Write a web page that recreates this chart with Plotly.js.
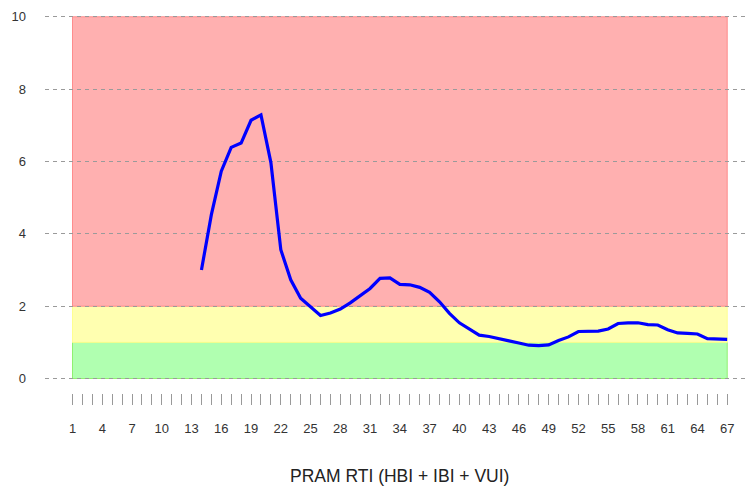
<!DOCTYPE html>
<html>
<head>
<meta charset="utf-8">
<script src="https://cdn.plot.ly/plotly-3.0.1.min.js"></script>
<style>html,body{margin:0;padding:0;background:#fff;}#chart{width:748px;height:486px;}</style>
</head>
<body>
<div id="chart"></div>
<script>
// Data
const weeks = [14,15,16,17,18,19,20,21,22,23,24,25,26,27,28,29,30,31,32,33,34,35,36,37,38,39,40,
  41,42,43,44,45,46,47,48,49,50,51,52,53,54,55,56,57,58,59,60,61,62,63,64,65,66,67];
const rtiValues = [3.00,4.53,5.73,6.39,6.51,7.14,7.29,5.97,3.56,2.73,2.22,1.97,1.74,1.81,1.92,2.09,2.29,2.49,2.77,2.78,
  2.60,2.59,2.52,2.38,2.12,1.80,1.54,1.37,1.20,1.16,1.09,1.04,0.98,0.92,0.91,0.93,1.05,1.15,1.30,1.31,
  1.31,1.37,1.52,1.54,1.54,1.49,1.48,1.35,1.26,1.25,1.23,1.10,1.08,1.08];
const allTicks = [1,2,3,4,5,6,7,8,9,10,11,12,13,14,15,16,17,18,19,20,21,22,23,24,25,26,27,28,29,30,31,32,33,34,
  35,36,37,38,39,40,41,42,43,44,45,46,47,48,49,50,51,52,53,54,55,56,57,58,59,60,61,62,63,64,65,66,67];
const labelTicks = [1,4,7,10,13,16,19,22,25,28,31,34,37,40,43,46,49,52,55,58,61,64,67];
const yTicks = [0,2,4,6,8,10];
const bandStart = 1, bandEnd = 67;
const bandLow = [0,1,2];
const bandHigh = [1,2,10];
const bandFill = ['#b0ffb0','#ffffb0','#ffb0b0'];
const bandLine = ['#90f070','#ffff90','#ff8c8c'];
const xTitle = 'PRAM RTI (HBI + IBI + VUI)';

const tickText = allTicks.map(t => labelTicks.indexOf(t) >= 0 ? String(t) : '');
const xRange = [-1.772, 69.097];

const shapes = bandLow.map((lo, i) => ({
  type: 'rect', xref: 'x', yref: 'y', layer: 'below',
  x0: bandStart, x1: bandEnd, y0: lo, y1: bandHigh[i],
  fillcolor: bandFill[i], line: {color: bandLine[i], width: 1}
}));

const trace = {
  x: weeks, y: rtiValues, type: 'scatter', mode: 'lines',
  line: {color: '#0000ff', width: 3.2, shape: 'linear'},
  xaxis: 'x', yaxis: 'y', hoverinfo: 'skip', showlegend: false
};

const layout = {
  width: 748, height: 486,
  margin: {l: 45, r: 0, t: 15, b: 0, pad: 0},
  paper_bgcolor: '#ffffff', plot_bgcolor: 'rgba(0,0,0,0)',
  font: {family: '"Liberation Sans", Arial, sans-serif', color: '#333', size: 12},
  showlegend: false,
  xaxis: {
    range: xRange, showgrid: false, zeroline: false, showline: false,
    showticklabels: false, ticks: '', fixedrange: true
  },
  xaxis2: {
    range: xRange, overlaying: 'x', anchor: 'free', position: 0.1975,
    tickmode: 'array', tickvals: allTicks, ticktext: tickText,
    ticks: 'outside', ticklen: 11, tickwidth: 1, tickcolor: '#999999',
    showgrid: false, zeroline: false, showline: false,
    tickangle: 0, ticklabelstandoff: 12,
    tickfont: {size: 13, color: '#333', family: '"Liberation Sans", Arial, sans-serif'}
  },
  yaxis: {
    range: [-0.05, 10.05], domain: [0.2244, 1],
    tickmode: 'array', tickvals: yTicks, ticks: '',
    showgrid: true, gridcolor: '#9a9a9a', gridwidth: 1, griddash: '4px,4px',
    zeroline: false, showline: false, ticklabelstandoff: 18,
    tickfont: {size: 13, color: '#333', family: '"Liberation Sans", Arial, sans-serif'}
  },
  shapes: shapes,
  annotations: [{
    text: xTitle, xref: 'x', yref: 'paper', x: (bandStart + bandEnd) / 2, y: 0.0202,
    xanchor: 'center', yanchor: 'middle', showarrow: false,
    font: {size: 17.5, color: '#222', family: '"Liberation Sans", Arial, sans-serif'}
  }]
};

// invisible helper trace so the tick axis (xaxis2) is rendered
const tickTrace = {x: [bandStart], y: [0], xaxis: 'x2', yaxis: 'y', mode: 'markers',
  marker: {opacity: 0}, hoverinfo: 'skip', showlegend: false};

Plotly.newPlot('chart', [trace, tickTrace], layout, {staticPlot: true, displayModeBar: false});
</script>
</body>
</html>
